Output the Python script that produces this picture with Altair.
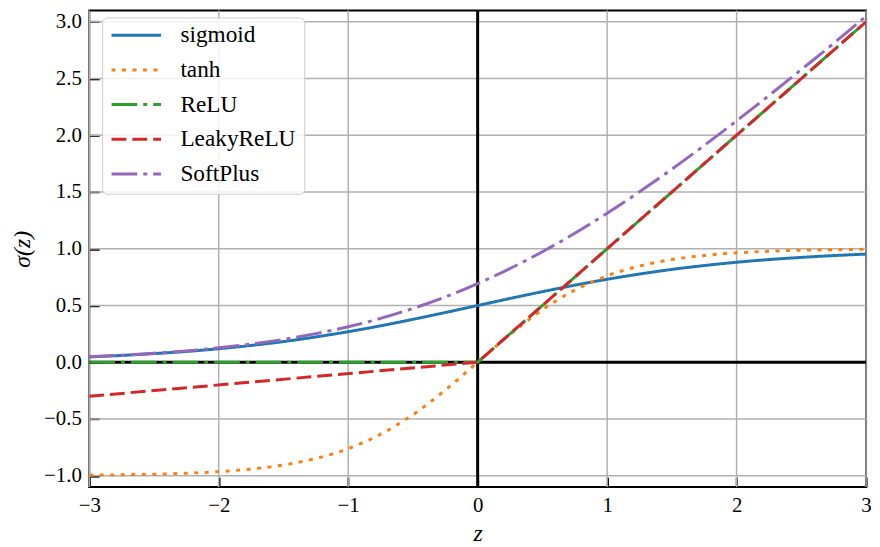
import altair as alt
import pandas as pd

# ---- data ----
x_smooth = [-3.0, -2.75, -2.5, -2.25, -2.0, -1.75, -1.5, -1.25, -1.0, -0.75, -0.5, -0.25,
            0.0, 0.25, 0.5, 0.75, 1.0, 1.25, 1.5, 1.75, 2.0, 2.25, 2.5, 2.75, 3.0]
sigmoid_y = [0.047, 0.060, 0.076, 0.095, 0.119, 0.148, 0.182, 0.223, 0.269, 0.321, 0.378, 0.438,
             0.500, 0.562, 0.622, 0.679, 0.731, 0.777, 0.818, 0.852, 0.881, 0.905, 0.924, 0.940, 0.953]
tanh_y = [-0.995, -0.992, -0.987, -0.978, -0.964, -0.941, -0.905, -0.848, -0.762, -0.635, -0.462, -0.245,
          0.000, 0.245, 0.462, 0.635, 0.762, 0.848, 0.905, 0.941, 0.964, 0.978, 0.987, 0.992, 0.995]
softplus_y = [0.049, 0.062, 0.079, 0.100, 0.127, 0.160, 0.201, 0.252, 0.313, 0.386, 0.474, 0.576,
              0.693, 0.826, 0.974, 1.136, 1.313, 1.502, 1.701, 1.910, 2.127, 2.350, 2.579, 2.810, 3.049]
relu_x = [-3.0, 0.0, 3.0]
relu_y = [0.0, 0.0, 3.0]
leaky_x = [-3.0, 0.0, 3.0]
leaky_y = [-0.3, 0.0, 3.0]

names = ["sigmoid", "tanh", "ReLU", "LeakyReLU", "SoftPlus"]
colors = ["#1f77b4", "#ff7f0e", "#2ca02c", "#d62728", "#9467bd"]
dashes = [[1, 0], [4, 6.6], [26, 6, 4, 6], [15, 6], [26, 6, 4, 6]]

x_ticks = [-3, -2, -1, 0, 1, 2, 3]
y_ticks = [-1.0, -0.5, 0.0, 0.5, 1.0, 1.5, 2.0, 2.5, 3.0]

rows = []
for xs, ys, n in [(x_smooth, sigmoid_y, "sigmoid"), (x_smooth, tanh_y, "tanh"),
                  (relu_x, relu_y, "ReLU"), (leaky_x, leaky_y, "LeakyReLU"),
                  (x_smooth, softplus_y, "SoftPlus")]:
    for a, b in zip(xs, ys):
        rows.append({"x": a, "y": b, "name": n})
df = pd.DataFrame(rows)

SERIF = "Liberation Serif"
W, H = 784, 481

xscale = alt.Scale(domain=[-3, 3], nice=False, zero=False)
yscale = alt.Scale(domain=[-1.1, 3.1], nice=False, zero=False)

xaxis = alt.Axis(values=x_ticks, format="d", title="z", grid=False, domain=False,
                 offset=-10, tickSize=10, labelFlush=False, titlePadding=6,
                 labelFont=SERIF, titleFont=SERIF)
yaxis = alt.Axis(values=y_ticks, format=".1f", title="σ(z)", grid=False, domain=False,
                 offset=-10, tickSize=10, labelFlush=False, titlePadding=9,
                 labelFont=SERIF, titleFont=SERIF)

color_enc = alt.Color("name:N", scale=alt.Scale(domain=names, range=colors),
                      legend=alt.Legend(title=None))
dash_enc = alt.StrokeDash("name:N", scale=alt.Scale(domain=names, range=dashes),
                          legend=alt.Legend(title=None))

grid_x = alt.Chart(pd.DataFrame({"gx": x_ticks})).mark_rule(
    color="#b0b0b0", strokeWidth=1.5).encode(x=alt.X("gx:Q", scale=xscale, axis=xaxis))
grid_y = alt.Chart(pd.DataFrame({"gy": y_ticks})).mark_rule(
    color="#b0b0b0", strokeWidth=1.5).encode(y=alt.Y("gy:Q", scale=yscale, axis=yaxis))

zero_v = alt.Chart(pd.DataFrame({"z": [0]})).mark_rule(color="black", strokeWidth=3).encode(
    x=alt.X("z:Q", scale=xscale, axis=xaxis))
zero_h = alt.Chart(pd.DataFrame({"z": [0]})).mark_rule(color="black", strokeWidth=3).encode(
    y=alt.Y("z:Q", scale=yscale, axis=yaxis))

base = alt.Chart(df)


def line_layer(sel, interp):
    return base.transform_filter(
        alt.FieldOneOfPredicate(field="name", oneOf=sel)
    ).mark_line(strokeWidth=3, interpolate=interp, clip=True).encode(
        x=alt.X("x:Q", scale=xscale, axis=xaxis),
        y=alt.Y("y:Q", scale=yscale, axis=yaxis),
        color=color_enc,
        strokeDash=dash_enc,
    )


lines1 = line_layer(["sigmoid", "tanh"], "monotone")
lines2 = line_layer(["ReLU", "LeakyReLU"], "linear")
lines3 = line_layer(["SoftPlus"], "monotone")

chart = alt.layer(grid_x, grid_y, zero_v, zero_h, lines1, lines2, lines3).properties(
    width=W, height=H,
    autosize=alt.AutoSizeParams(type="none"),
    padding={"left": 82, "top": 0, "right": 6, "bottom": 57},
    background="white",
).configure(
    font=SERIF
).configure_view(
    stroke="black", strokeWidth=2
).configure_axis(
    tickWidth=2, tickColor="black",
    labelPadding=8, labelFontSize=21, labelFont=SERIF, labelColor="black",
    titleFont=SERIF, titleFontSize=24, titleFontStyle="italic",
    titleFontWeight="normal", titleColor="black",
).configure_legend(
    orient="none", legendX=13, legendY=7,
    fillColor="rgba(255,255,255,0.85)", strokeColor="#cccccc", cornerRadius=5,
    padding=8, rowPadding=11, labelOffset=18, clipHeight=20,
    symbolType="stroke", symbolSize=2500, symbolStrokeWidth=3,
    labelFont=SERIF, labelFontSize=23.5, labelColor="black", labelLimit=300,
)

chart.save("out.html", embed_options={"renderer": "svg", "actions": False})
